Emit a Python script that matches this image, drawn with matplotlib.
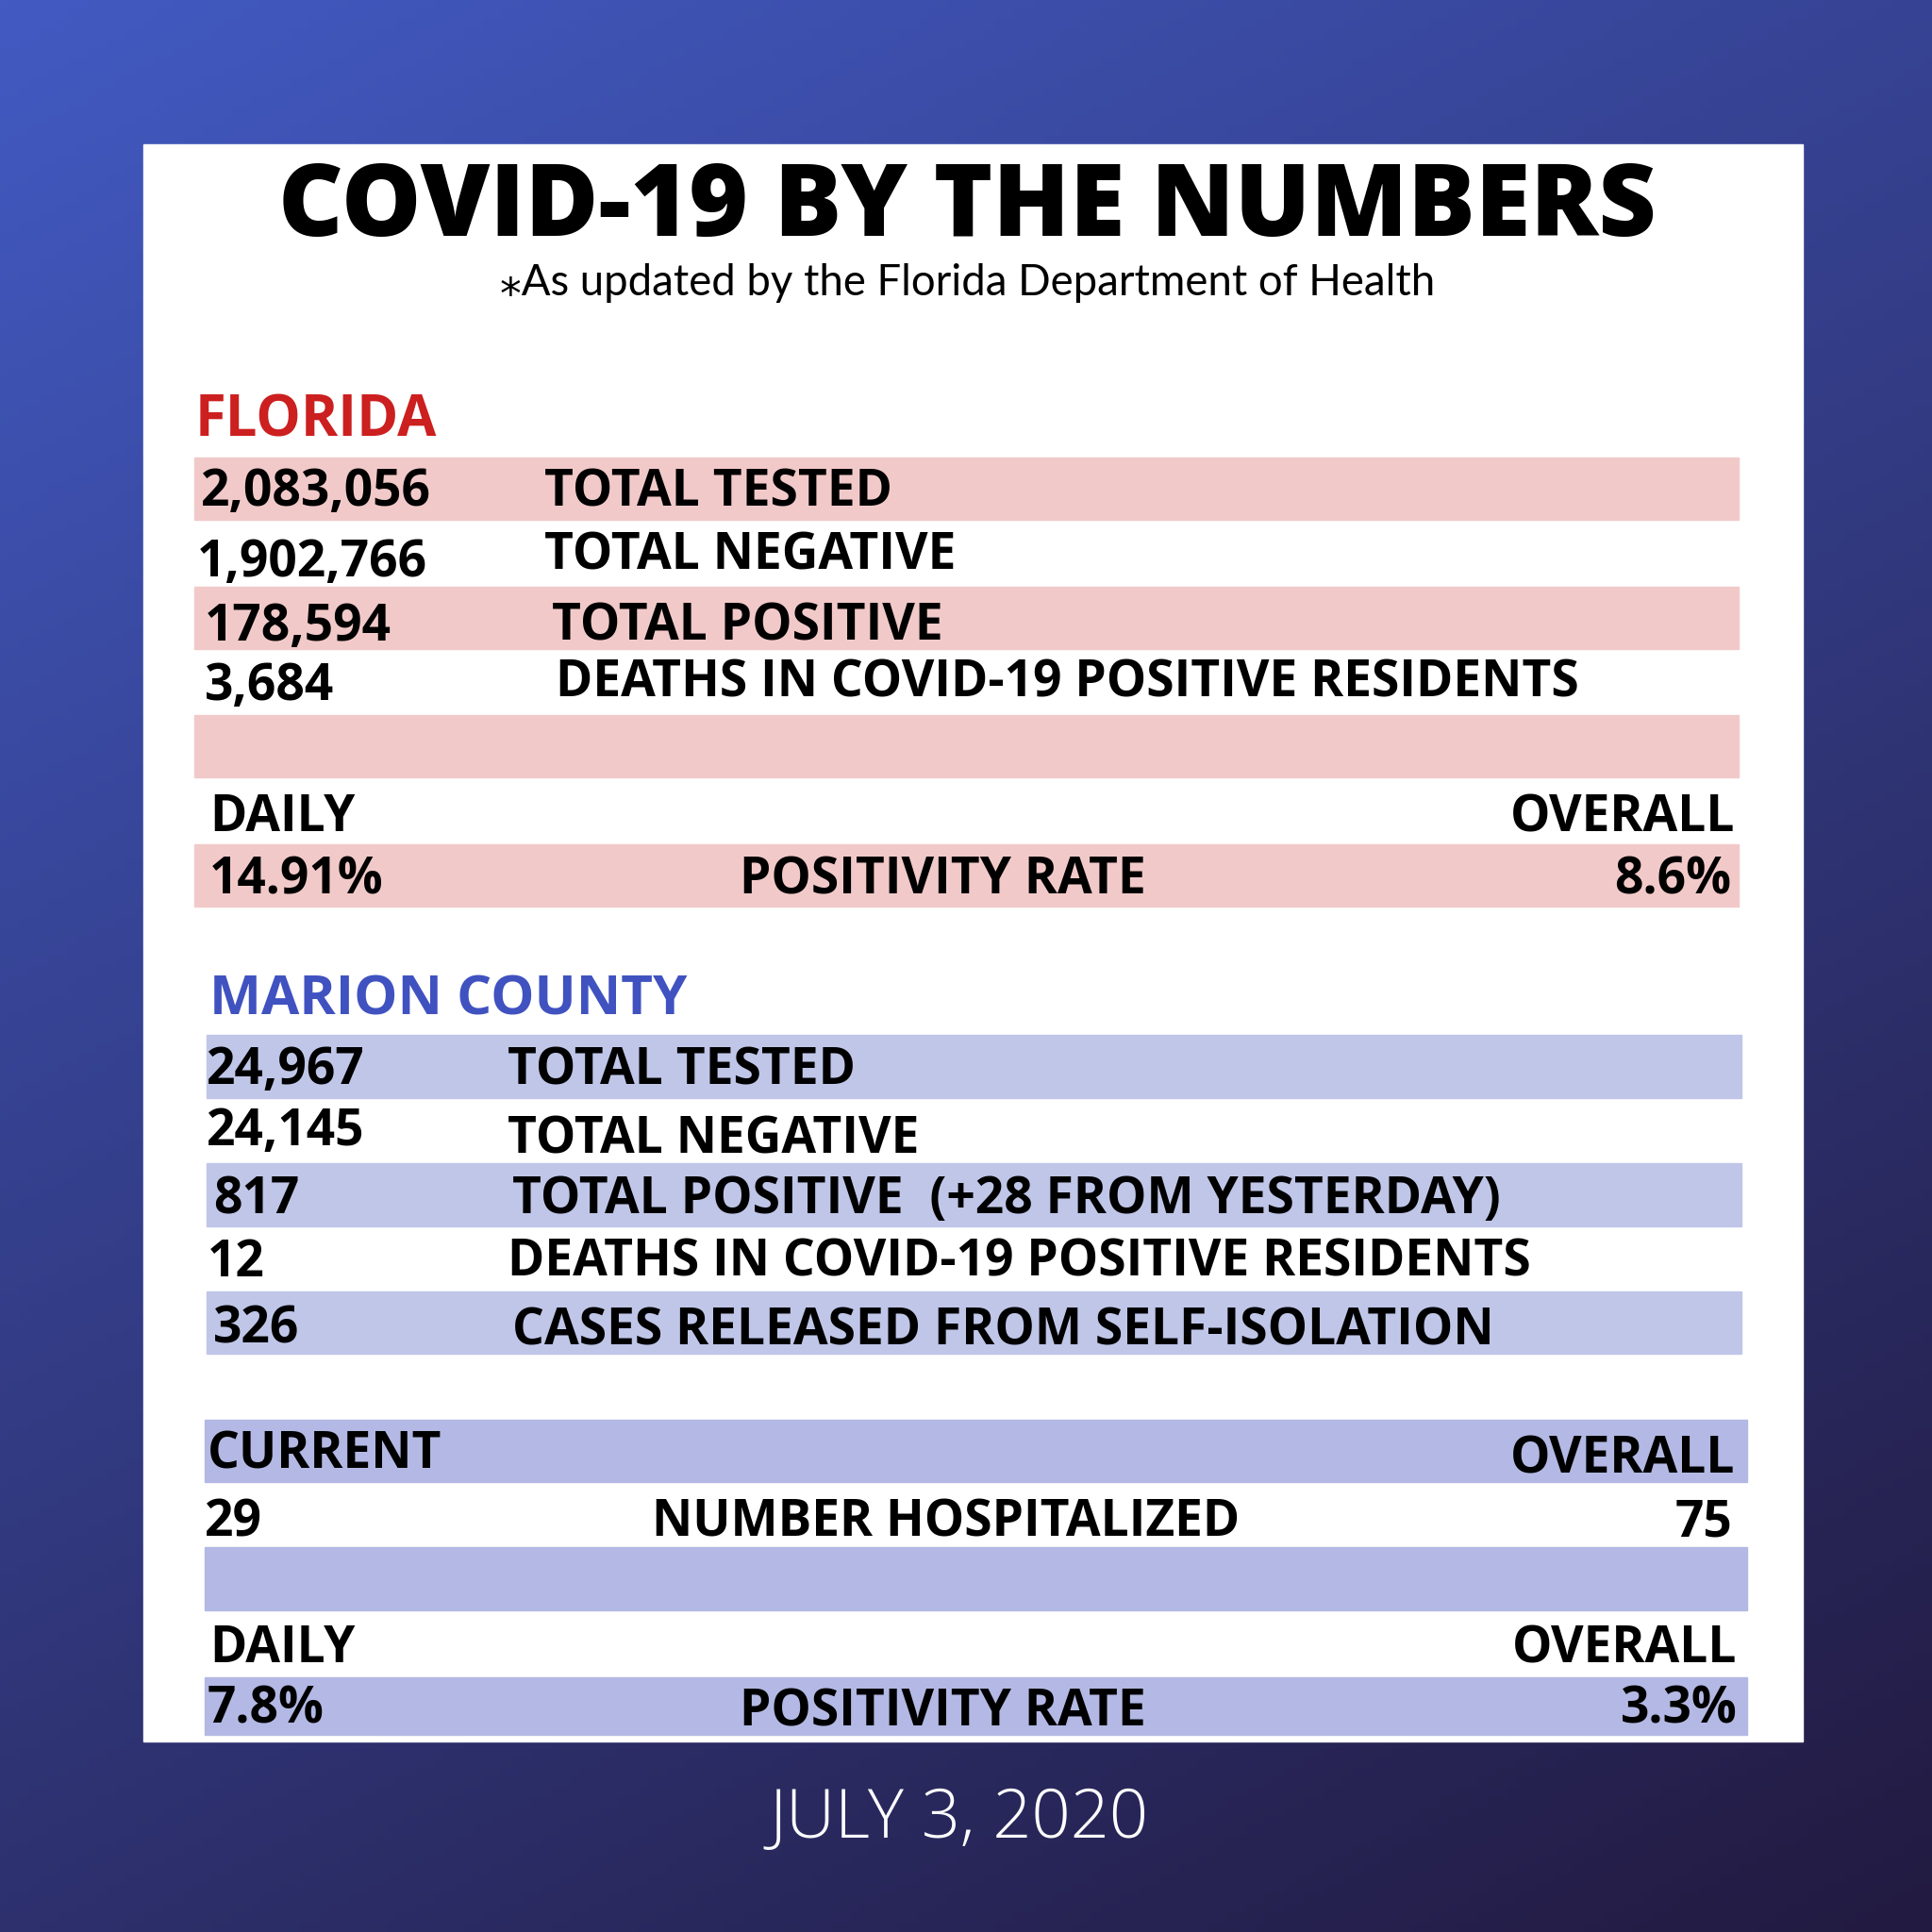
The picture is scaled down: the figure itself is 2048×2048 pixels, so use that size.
import matplotlib
matplotlib.use("Agg")
import matplotlib.pyplot as plt
import numpy as np
from matplotlib.patches import Rectangle

title = "COVID-19 BY THE NUMBERS"
subtitle = "⁎As updated by the Florida Department of Health"
date = "JULY 3, 2020"
fl_values = ["2,083,056", "1,902,766", "178,594", "3,684"]
fl_labels = ["TOTAL TESTED", "TOTAL NEGATIVE", "TOTAL POSITIVE", "DEATHS IN COVID-19 POSITIVE RESIDENTS"]
fl_daily, fl_overall = "14.91%", "8.6%"
mc_values = ["24,967", "24,145", "817", "12", "326"]
mc_labels = ["TOTAL TESTED", "TOTAL NEGATIVE", "TOTAL POSITIVE  (+28 FROM YESTERDAY)",
             "DEATHS IN COVID-19 POSITIVE RESIDENTS", "CASES RELEASED FROM SELF-ISOLATION"]
hosp_current, hosp_overall = "29", "75"
mc_daily, mc_overall = "7.8%", "3.3%"

S = 1568
fig = plt.figure(figsize=(20.48, 20.48), dpi=100)
ax = fig.add_axes([0, 0, 1, 1])
ax.set_xlim(0, S); ax.set_ylim(S, 0); ax.axis("off")

yy, xx = np.mgrid[0:1:200j, 0:1:200j]
t = (xx * 0.35 + yy * 0.65)
c0 = np.array([0x42, 0x5a, 0xc2]) / 255
c1 = np.array([0x22, 0x1a, 0x40]) / 255
img = c0[None, None, :] * (1 - t[..., None]) + c1[None, None, :] * t[..., None]
ax.imshow(img, extent=[0, S, S, 0], aspect="auto", zorder=0)
ax.add_patch(Rectangle((116, 117), 1347, 1296, color="white", zorder=1))

F = "Open Sans"
DY = 4
def T(x, y, s, size=38.3, ha="left", color="black", weight="bold", family=None, **kw):
    ax.text(x, y + DY, s, fontsize=size, ha=ha, va="center", color=color,
            family=family or [F, "DejaVu Sans"], weight=weight, zorder=3, **kw)

T(785, 166, title, size=76.6, ha="center", weight="heavy")
T(785, 226, subtitle, size=32.8, ha="center", weight="normal", family=["Lato", "DejaVu Sans"])

pink = "#f2c9c9"
for y0 in [371, 476, 580, 685]:
    ax.add_patch(Rectangle((158, y0), 1253, 51, color=pink, zorder=2))
T(158, 338, "FLORIDA", size=43, color="#cc1f1f")
fl_vy = [396, 453, 505, 553]
fl_vx = [163, 160, 166, 166]
fl_ly = [396, 447, 505, 551]
fl_lx = [442, 442, 448, 451]
for i in range(4):
    T(fl_vx[i], fl_vy[i], fl_values[i])
    T(fl_lx[i], fl_ly[i], fl_labels[i])
T(170, 660, "DAILY"); T(1408, 660, "OVERALL", ha="right")
T(170, 711, fl_daily); T(765, 711, "POSITIVITY RATE", ha="center"); T(1405, 711, fl_overall, ha="right")

lav = "#c0c6e8"; lav2 = "#b3b9e4"
for y0 in [840, 944, 1048]:
    ax.add_patch(Rectangle((168, y0), 1245, 51, color=lav, zorder=2))
for y0, h in [(1152, 51), (1256, 51), (1361, 47)]:
    ax.add_patch(Rectangle((166, y0), 1252, h, color=lav2, zorder=2))
T(170, 808, "MARION COUNTY", size=42, color="#4052c0")
mc_vy = [865, 915, 970, 1021, 1075]
mc_vx = [168, 168, 173, 168, 173]
mc_ly = [865, 921, 970, 1021, 1077]
mc_lx = [412, 412, 416, 412, 416]
for i in range(5):
    T(mc_vx[i], mc_vy[i], mc_values[i])
    T(mc_lx[i], mc_ly[i], mc_labels[i])
T(168, 1177, "CURRENT"); T(1408, 1181, "OVERALL", ha="right")
T(166, 1232, hosp_current); T(768, 1232, "NUMBER HOSPITALIZED", ha="center"); T(1406, 1232, hosp_overall, ha="right")
T(170, 1334, "DAILY"); T(1410, 1335, "OVERALL", ha="right")
T(168, 1384, mc_daily); T(765, 1386, "POSITIVITY RATE", ha="center"); T(1410, 1384, mc_overall, ha="right")

T(778, 1473, date, size=52, ha="center", color="white", weight="light")

fig.savefig("out.png", dpi=100)
